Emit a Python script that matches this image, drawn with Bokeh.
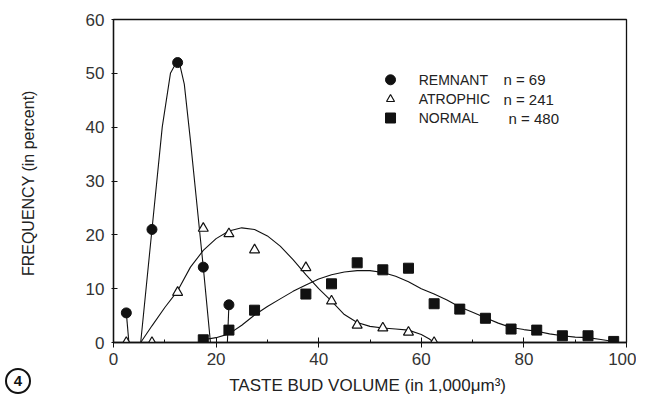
from bokeh.plotting import figure
from bokeh.models import Range1d, FixedTicker, Div
from bokeh.layouts import column
from bokeh.core.properties import value
from bokeh.embed import file_html
from bokeh.resources import INLINE

# ---- data ----
remnant_x = [2.5, 7.5, 12.5, 17.5, 22.5]
remnant_y = [5.5, 21.0, 52.0, 14.0, 7.0]

atrophic_x = [2.5, 7.5, 12.5, 17.5, 22.5, 27.5, 37.5, 42.5, 47.5, 52.5, 57.5, 62.5]
atrophic_y = [0.0, 0.0, 9.3, 21.2, 20.2, 17.2, 13.9, 7.7, 3.2, 2.7, 1.9, 0.0]

normal_x = [17.5, 22.5, 27.5, 37.5, 42.5, 47.5, 52.5, 57.5, 62.5, 67.5, 72.5, 77.5, 82.5, 87.5, 92.5, 97.5]
normal_y = [0.5, 2.3, 6.0, 9.0, 10.9, 14.8, 13.5, 13.8, 7.2, 6.2, 4.5, 2.5, 2.3, 1.25, 1.25, 0.2]

# fitted curves as drawn in the picture
remnant_fit1_x = [2.5, 3.0]
remnant_fit1_y = [5.5, 0.0]
remnant_fit2_x = [5.3, 7.5, 9.5, 11.1, 12.0, 12.5, 13.0, 13.8, 15.0, 17.5, 18.9]
remnant_fit2_y = [0.0, 21.0, 40.0, 50.0, 51.6, 52.0, 51.3, 48.0, 37.5, 14.0, 0.0]
remnant_fit3_x = [22.2, 22.5]
remnant_fit3_y = [0.0, 7.0]

atrophic_fit_x = [5.3, 7.5, 10, 12.5, 15, 17.5, 20, 22.5, 25, 27.5, 30, 32.5, 35, 37.5, 40,
                  42.5, 45, 47.5, 50, 52.5, 55, 57.5, 60, 61.5, 62.5]
atrophic_fit_y = [0.0, 3.1, 6.5, 9.6, 14.0, 17.1, 19.3, 20.7, 21.3, 21.0, 19.8, 17.9, 15.4, 12.6, 10.0,
                  7.7, 5.2, 3.7, 3.0, 2.7, 2.5, 2.3, 1.5, 0.7, 0.0]

normal_fit_x = [17.5, 20, 22.5, 25, 27.5, 30, 32.5, 35, 37.5, 40, 42.5, 45, 47.5, 50, 52.5, 55,
                57.5, 60, 62.5, 65, 67.5, 70, 72.5, 75, 77.5, 80, 82.5, 85, 87.5, 90, 92.5, 95, 97.5]
normal_fit_y = [0.5, 0.9, 1.6, 3.2, 5.1, 6.7, 8.1, 9.5, 10.7, 11.8, 12.6, 13.1, 13.35, 13.35, 13.0, 12.3,
                11.3, 10.0, 9.0, 7.9, 6.6, 5.6, 4.6, 3.6, 2.8, 2.4, 2.1, 1.6, 1.25, 1.0, 0.9, 0.55, 0.2]

legend_names = ["REMNANT", "ATROPHIC", "NORMAL"]
legend_n = ["n = 69", "n = 241", "n = 480"]
legend_y = [48.8, 45.2, 41.7]
legend_marker_x = 54.0
legend_name_x = 59.5
legend_n_x = [76.0, 76.0, 77.0]

x_ticks = [0, 20, 40, 60, 80, 100]
x_minor = [10, 30, 50, 70, 90]
y_ticks = [0, 10, 20, 30, 40, 50, 60]

figure_number = "4"

FONT = "Liberation Sans"
INK = "#111111"

p = figure(width=636, height=398, output_backend="svg", toolbar_location=None,
           x_range=Range1d(0, 100), y_range=Range1d(0, 60),
           min_border_left=113, min_border_right=10, min_border_top=19, min_border_bottom=56)
p.xgrid.visible = False
p.ygrid.visible = False
p.outline_line_color = INK
p.outline_line_width = 1.3
p.background_fill_color = "white"
p.border_fill_color = "white"

for ax in (p.xaxis[0], p.yaxis[0]):
    ax.axis_line_color = INK
    ax.axis_line_width = 1.3
    ax.major_tick_line_color = INK
    ax.minor_tick_line_color = INK
    ax.major_label_text_font = FONT
    ax.major_label_text_font_size = "17px"
    ax.major_label_text_color = "#333333"
    ax.axis_label_text_font = FONT
    ax.axis_label_text_font_style = "normal"
    ax.axis_label_text_color = "#222222"

p.xaxis.axis_label_text_font_size = "17px"
p.yaxis.axis_label_text_font_size = "16px"

p.xaxis.ticker = FixedTicker(ticks=x_ticks, minor_ticks=x_minor)
p.yaxis.ticker = FixedTicker(ticks=y_ticks, minor_ticks=[])
p.xaxis.major_tick_in = 5
p.xaxis.major_tick_out = 5
p.xaxis.minor_tick_in = 3
p.xaxis.minor_tick_out = 0
p.yaxis.major_tick_in = 4
p.yaxis.major_tick_out = 2
p.xaxis.major_label_standoff = 5
p.yaxis.major_label_standoff = 7

p.xaxis.axis_label = "TASTE BUD VOLUME  (in 1,000\u03bcm\u00b3)"
p.yaxis.axis_label = "FREQUENCY  (in percent)"
p.xaxis.axis_label_standoff = 8
p.yaxis.axis_label_standoff = 46

# fitted curves
for cx, cy in [(remnant_fit1_x, remnant_fit1_y), (remnant_fit2_x, remnant_fit2_y),
               (remnant_fit3_x, remnant_fit3_y), (atrophic_fit_x, atrophic_fit_y),
               (normal_fit_x, normal_fit_y)]:
    p.line(cx, cy, line_color=INK, line_width=1.1)

# data points
p.scatter(normal_x, normal_y, marker="square", size=10, fill_color=INK, line_color=INK)
p.scatter(atrophic_x, atrophic_y, marker="triangle", size=10, fill_color="white",
          line_color=INK, line_width=1.2)
p.scatter(remnant_x, remnant_y, marker="circle", size=10, fill_color=INK, line_color=INK)

# legend
p.scatter([legend_marker_x], [legend_y[0]], marker="circle", size=10, fill_color=INK, line_color=INK)
p.scatter([legend_marker_x], [legend_y[1]], marker="triangle", size=8, fill_color="white",
          line_color=INK, line_width=1.2)
p.scatter([legend_marker_x], [legend_y[2]], marker="square", size=10, fill_color=INK, line_color=INK)
p.text([legend_name_x] * 3, legend_y, text=legend_names, text_font=value(FONT),
       text_font_size="14px", text_baseline="middle", text_color="#222222")
p.text(legend_n_x, legend_y, text=legend_n, text_font=value(FONT),
       text_font_size="15px", text_baseline="middle", text_color="#222222")

# circled figure number, overlapping the lower-left corner of the figure
badge = Div(text=figure_number, width=26, height=26, margin=(-30, 0, 0, 5),
            styles={"border": "2px solid #111111", "border-radius": "50%",
                    "box-sizing": "border-box", "font-family": FONT,
                    "font-weight": "bold", "font-size": "15px", "color": "#111111",
                    "text-align": "center", "line-height": "22px",
                    "background": "transparent", "z-index": "10"})

layout = column(p, badge, spacing=0)

open("out.html", "w").write(file_html(layout, INLINE))
